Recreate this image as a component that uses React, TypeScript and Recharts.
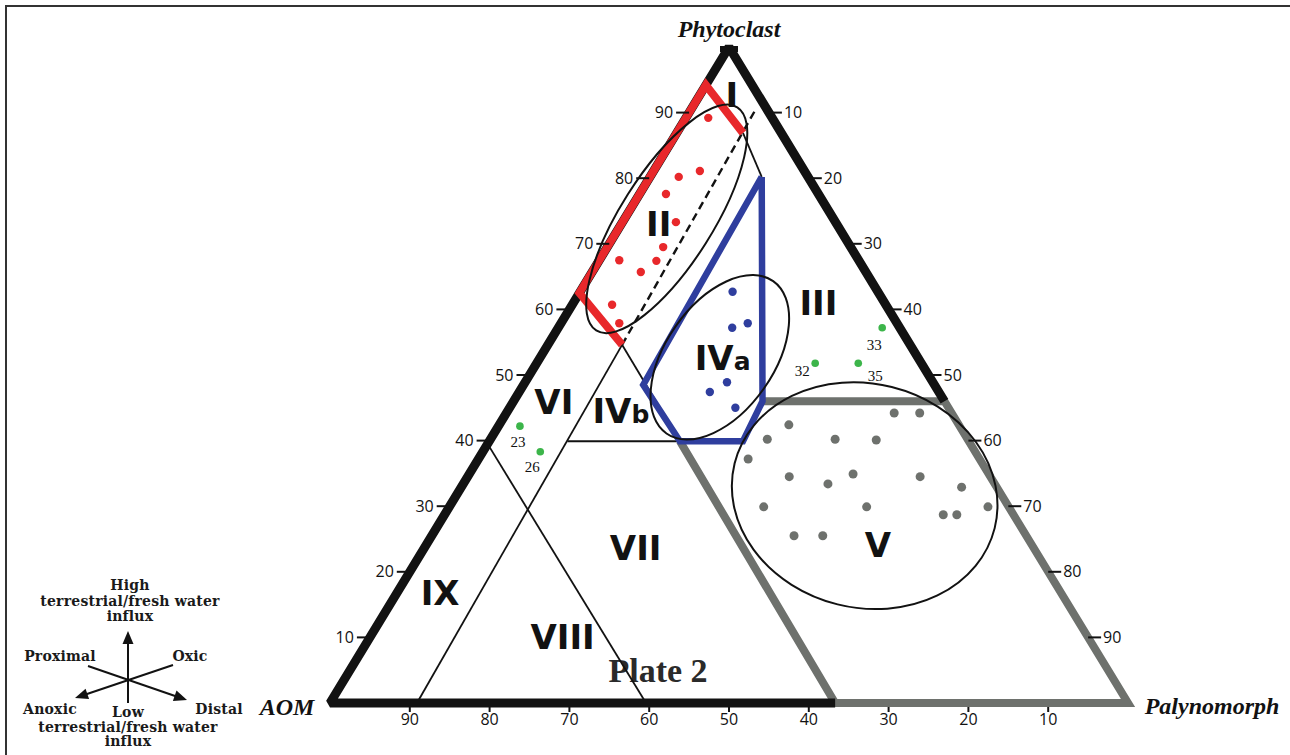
import React from 'react';
import { ScatterChart, Scatter, XAxis, YAxis } from 'recharts';

// every position is a ternary value: [phytoclast %, palynomorph %], AOM = the rest
type Tern = [number, number];

const tickValues = [10, 20, 30, 40, 50, 60, 70, 80, 90];
const vertexNames = ['AOM', 'Phytoclast', 'Palynomorph'];
const vertexValues: Tern[] = [[0, 0], [100, 0], [0, 100]];

// field boundaries
const outlineBlack: Tern[] = [[0, 63.3], [0, 0], [100, 0], [46, 54]];
const outlineGrey: Tern[] = [[46, 31.2], [46, 54], [0, 100], [0, 63.3], [39.9, 23.9]];
const fieldRed: Tern[] = [[86.9, 8.3], [94.2, 0], [62.5, 0], [54.6, 9.3]];
const fieldBlue: Tern[] = [[80.2, 14.0], [48.5, 15.0], [39.9, 23.9], [39.9, 31.8], [46, 31.2], [80.2, 14.0]];
const thinLines: Tern[][] = [
  [[54.6, 9.3], [0, 10.9]],
  [[54.6, 9.3], [39.9, 23.9]],
  [[39.9, 9.8], [39.9, 23.9]],
  [[39.5, 0], [0, 39.6]],
  [[86.9, 8.3], [80.2, 14.0]],
];
const dashedLine: Tern[] = [[54.6, 9.3], [90.4, 8.1]];

// samples
const redSamples: Tern[] = [
  [89.2, 2.8], [81.1, 5.8], [80.2, 3.6], [77.6, 3.3], [73.3, 6.7], [69.5, 7.0],
  [67.4, 7.2], [65.7, 6.1], [67.5, 2.5], [60.7, 5.0], [57.9, 7.3],
];
const blueSamples: Tern[] = [[62.7, 19.1], [57.2, 21.8], [57.9, 23.4], [48.9, 25.3], [47.4, 23.9], [45.0, 28.3]];
const greySamples: Tern[] = [
  [44.2, 48.6], [44.2, 51.8], [42.4, 36.3], [40.2, 34.7], [40.2, 43.2], [40.1, 48.4],
  [37.2, 33.8], [34.5, 40.3], [33.4, 45.7], [34.9, 48.1], [34.5, 56.7], [32.9, 62.7],
  [29.9, 39.4], [29.9, 52.3], [28.7, 62.5], [28.7, 64.2], [29.9, 67.5], [25.5, 45.4], [25.5, 49.0],
];
const sampleIds = ['23', '26', '32', '33', '35'];
const sampleValues: Tern[] = [[42.2, 2.7], [38.3, 7.2], [51.8, 34.9], [57.2, 40.6], [51.8, 40.3]];

const fieldNames = ['I', 'II', 'III', 'IVa', 'IVb', 'V', 'VI', 'VII', 'VIII', 'IX'];
const fieldCentres: Tern[] = [
  [92.7, 4.0], [73.0, 4.7], [61.0, 30.7], [52.6, 22.9], [44.5, 14.2],
  [24.1, 56.6], [45.9, 5.1], [23.6, 26.5], [10.1, 24.1], [16.8, 5.4],
];

const clusterNames = ['II', 'IVa', 'V'];
const clusterCentres: Tern[] = [[73.8, 5.3], [52.7, 22.5], [31.6, 51.2]];

// styles
const RED = '#e8282b';
const BLUE = '#2f3e9e';
const GREY = '#6e716d';
const GREEN = '#3cb54a';
const INK = '#121212';

const ellipseStyle: Record<string, { rx: number; ry: number; angle: number }> = {
  II: { rx: 132, ry: 46, angle: -57.7 },
  IVa: { rx: 93, ry: 54, angle: -55 },
  V: { rx: 134, ry: 112, angle: 14 },
};
const sampleLabelOffset: Record<string, [number, number]> = {
  '23': [-2, 21], '26': [-8, 20], '32': [-13, 13], '33': [-8, 22], '35': [17, 18],
};
const vertexLabelOffset: Record<string, [number, number]> = {
  AOM: [-43, 12], Phytoclast: [0, -10], Palynomorph: [84, 11],
};

const toPoint = (t: Tern) => ({ x: t[1] + t[0] / 2, y: t[0] });
const toPoints = (list: Tern[]) => list.map(toPoint);

const NoDot = () => <g />;

const path = (key: string, pts: Tern[], stroke: string, width: number, join = 'miter', dash?: string) => (
  <Scatter
    key={key}
    data={toPoints(pts)}
    line={{ stroke, strokeWidth: width, strokeLinejoin: join, strokeDasharray: dash }}
    shape={NoDot}
    isAnimationActive={false}
  />
);

const dots = (key: string, pts: Tern[], fill: string, r: number) => (
  <Scatter
    key={key}
    data={toPoints(pts)}
    shape={(p: any) => <circle cx={p.cx} cy={p.cy} r={r} fill={fill} />}
    isAnimationActive={false}
  />
);

const tickFont = { fontFamily: 'Open Sans, sans-serif', fontSize: 16, fill: INK };

const leftTick = (p: any) => (
  <g>
    <line x1={p.cx - 13} y1={p.cy} x2={p.cx} y2={p.cy} stroke={INK} strokeWidth={2} />
    <text x={p.cx - 16} y={p.cy + 5.5} textAnchor="end" {...tickFont}>{p.payload.label}</text>
  </g>
);
const rightTick = (p: any) => (
  <g>
    <line x1={p.cx} y1={p.cy} x2={p.cx + 13} y2={p.cy} stroke={INK} strokeWidth={2} />
    <text x={p.cx + 15} y={p.cy + 5.5} textAnchor="start" {...tickFont}>{p.payload.label}</text>
  </g>
);
const bottomTick = (p: any) => (
  <g>
    <line x1={p.cx} y1={p.cy + 4} x2={p.cx} y2={p.cy + 9} stroke={INK} strokeWidth={2} />
    <text x={p.cx} y={p.cy + 22} textAnchor="middle" {...tickFont}>{p.payload.label}</text>
  </g>
);

const fieldLabel = (p: any) => {
  const name: string = p.payload.name;
  const split = name.startsWith('IV') && name.length === 3;
  return (
    <text x={p.cx} y={p.cy + 12} textAnchor="middle" fontFamily="DejaVu Sans, sans-serif" fontWeight="bold" fontSize={34} fill={INK}>
      {split ? 'IV' : name}
      {split && <tspan fontSize={25}>{name.slice(2)}</tspan>}
    </text>
  );
};

const clusterShape = (p: any) => {
  const s = ellipseStyle[p.payload.name];
  return (
    <ellipse
      cx={p.cx}
      cy={p.cy}
      rx={s.rx}
      ry={s.ry}
      transform={`rotate(${s.angle} ${p.cx} ${p.cy})`}
      fill="none"
      stroke={INK}
      strokeWidth={2}
    />
  );
};

const sampleShape = (p: any) => {
  const [dx, dy] = sampleLabelOffset[p.payload.name];
  return (
    <g>
      <circle cx={p.cx} cy={p.cy} r={3.8} fill={GREEN} />
      <text x={p.cx + dx} y={p.cy + dy} textAnchor="middle" fontFamily="Liberation Serif, serif" fontSize={15} fill={INK}>
        {p.payload.name}
      </text>
    </g>
  );
};

const vertexShape = (p: any) => {
  const name: string = p.payload.name;
  const [dx, dy] = vertexLabelOffset[name];
  return (
    <g>
      {name === 'Phytoclast' && <rect x={p.cx - 9} y={p.cy - 1} width={18} height={6} fill={INK} />}
      <text
        x={p.cx + dx}
        y={p.cy + dy}
        textAnchor="middle"
        fontFamily="Liberation Serif, serif"
        fontStyle="italic"
        fontWeight="bold"
        fontSize={24}
        fill={INK}
      >
        {name}
      </text>
    </g>
  );
};

const Arrowhead = ({ x, y, angle }: { x: number; y: number; angle: number }) => (
  <polygon points="0,0 -13,-5.5 -13,5.5" transform={`translate(${x},${y}) rotate(${angle})`} fill={INK} />
);

const legendFont = {
  fontFamily: 'DejaVu Serif, serif',
  fontSize: 14,
  fontWeight: 'bold' as const,
  letterSpacing: 0.2,
  fill: '#1a1a1a',
  textAnchor: 'middle' as const,
};

const Decorations = () => (
  <svg width={1290} height={755} style={{ position: 'absolute', left: 0, top: 0 }}>
    <line x1={5} y1={6} x2={1290} y2={6} stroke="#333" strokeWidth={2} />
    <line x1={6} y1={5} x2={6} y2={755} stroke="#333" strokeWidth={2} />
    <text x={658} y={682} textAnchor="middle" fontFamily="Liberation Serif, serif" fontWeight="bold" fontSize={34} fill="#2a2a2a">
      Plate 2
    </text>
    <g>
      <text x={130} y={590} {...legendFont}>High</text>
      <text x={130} y={606} {...legendFont}>terrestrial/fresh water</text>
      <text x={130} y={621} {...legendFont}>influx</text>
      <line x1={128} y1={703} x2={128} y2={640} stroke={INK} strokeWidth={2} />
      <Arrowhead x={128} y={631} angle={-90} />
      <line x1={88} y1={666} x2={178} y2={697} stroke={INK} strokeWidth={2} />
      <Arrowhead x={187} y={700} angle={19} />
      <line x1={173} y1={665} x2={84} y2={695} stroke={INK} strokeWidth={2} />
      <Arrowhead x={75} y={698} angle={161.4} />
      <text x={60} y={661} {...legendFont}>Proximal</text>
      <text x={190} y={661} {...legendFont}>Oxic</text>
      <text x={50} y={714} {...legendFont}>Anoxic</text>
      <text x={128} y={717} {...legendFont}>Low</text>
      <text x={219} y={714} {...legendFont}>Distal</text>
      <text x={128} y={732} {...legendFont}>terrestrial/fresh water</text>
      <text x={128} y={746} {...legendFont}>influx</text>
    </g>
  </svg>
);

export default function App() {
  const named = (names: string[], values: Tern[]) => names.map((name, i) => ({ ...toPoint(values[i]), name }));
  const leftTicks = tickValues.map((t) => ({ ...toPoint([t, 0]), label: t }));
  const rightTicks = tickValues.map((t) => ({ ...toPoint([100 - t, t]), label: t }));
  const bottomTicks = tickValues.map((t) => ({ ...toPoint([0, 100 - t]), label: t }));

  return (
    <div style={{ position: 'absolute', left: 0, top: 0, width: 1290, height: 755, background: '#fff' }}>
      <Decorations />
      <div style={{ position: 'absolute', left: 0, top: 0 }}>
        <ScatterChart width={1290} height={755} margin={{ top: 47, right: 162, bottom: 52, left: 330 }}>
          <XAxis type="number" dataKey="x" domain={[0, 100]} hide />
          <YAxis type="number" dataKey="y" domain={[0, 100]} hide />
          {thinLines.map((l, i) => path(`thin-${i}`, l, INK, 1.8))}
          {path('dashed', dashedLine, INK, 2.4, 'miter', '8 5')}
          {path('grey', outlineGrey, GREY, 8)}
          {path('blue', fieldBlue, BLUE, 6.5)}
          {path('black', outlineBlack, INK, 9, 'bevel')}
          {path('red', fieldRed, RED, 8)}
          <Scatter data={leftTicks} shape={leftTick} isAnimationActive={false} />
          <Scatter data={rightTicks} shape={rightTick} isAnimationActive={false} />
          <Scatter data={bottomTicks} shape={bottomTick} isAnimationActive={false} />
          <Scatter data={named(clusterNames, clusterCentres)} shape={clusterShape} isAnimationActive={false} />
          {dots('red-dots', redSamples, RED, 4.2)}
          {dots('blue-dots', blueSamples, BLUE, 4.2)}
          {dots('grey-dots', greySamples, GREY, 4.5)}
          <Scatter data={named(sampleIds, sampleValues)} shape={sampleShape} isAnimationActive={false} />
          <Scatter data={named(fieldNames, fieldCentres)} shape={fieldLabel} isAnimationActive={false} />
          <Scatter data={named(vertexNames, vertexValues)} shape={vertexShape} isAnimationActive={false} />
        </ScatterChart>
      </div>
    </div>
  );
}
